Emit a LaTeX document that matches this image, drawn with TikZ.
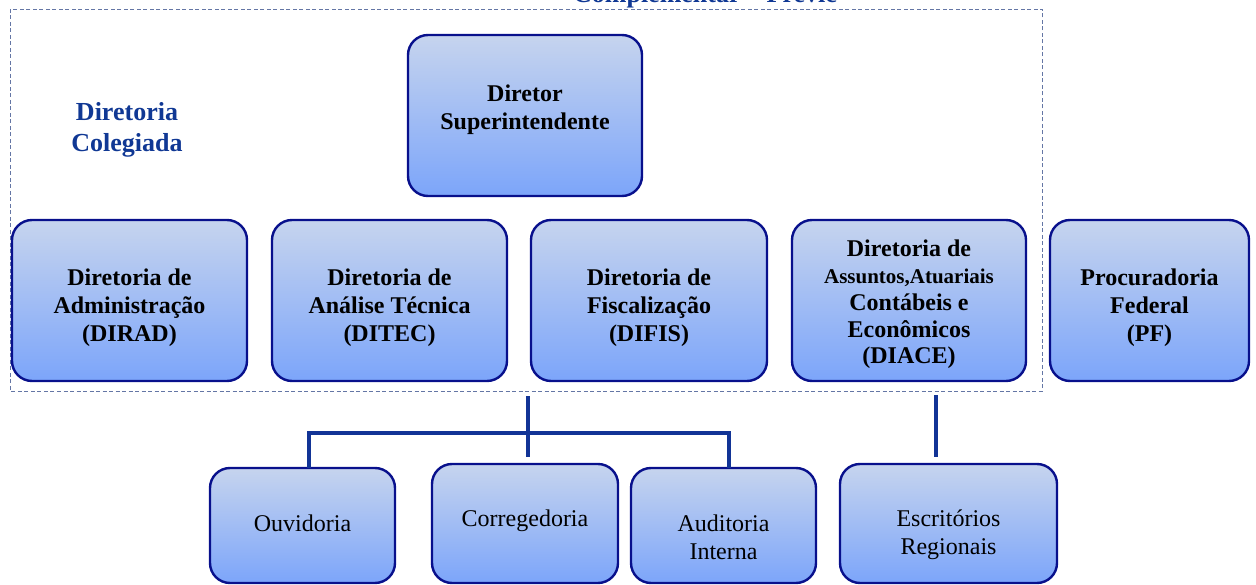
\documentclass[tikz,border=0pt]{standalone}
\usepackage{fontspec}
\setmainfont{Liberation Serif}
\definecolor{boxline}{RGB}{8,16,140}
\definecolor{boxtop}{RGB}{198,212,238}
\definecolor{boxbot}{RGB}{124,165,250}
\definecolor{connc}{RGB}{18,52,150}
\definecolor{titlec}{RGB}{16,56,148}
\definecolor{dashc}{RGB}{100,118,165}
\begin{document}
\begin{tikzpicture}[x=1pt,y=-1pt,
  box/.style args={#1/#2}{draw=boxline, line width=2.4pt, rounded corners=20pt,
    top color=boxtop, bottom color=boxbot, minimum width=#1pt, minimum height=#2pt,
    inner sep=0pt, outer sep=0pt},
  bt/.style={align=center, inner sep=0pt, font=\bfseries\fontsize{24}{28}\selectfont},
  lt/.style={align=center, inner sep=0pt, font=\fontsize{24}{28}\selectfont},
  head/.style={align=center, inner sep=0pt, text=titlec, font=\bfseries\fontsize{26}{31}\selectfont},
  conn/.style={draw=connc, line width=3.6pt},
  dashbox/.style={draw=dashc, line width=0.9pt, dash pattern=on 4pt off 2.5pt}]
\useasboundingbox (0,0) rectangle (1256,585);

% group frame
\draw[dashbox] (10,9) rectangle (1042,391);
\node[head, anchor=base] (title) at (705,3) {Complementar -- Previc};
\node[head] (coleg) at (127,130) {Diretoria\\Colegiada};

% top boxes
\node[box=234/161] (ds) at (525,115.5) {};
\node[bt] (dst) at (525,109.5) {Diretor\\Superintendente};

\node[box=235/161] (dirad) at (129.5,300.5) {};
\node[bt] (diradt) at (129.5,308) {Diretoria de\\Administração\\(DIRAD)};

\node[box=235/161] (ditec) at (389.5,300.5) {};
\node[bt] (ditect) at (389.5,308) {Diretoria de\\Análise Técnica\\(DITEC)};

\node[box=236/161] (difis) at (649,300.5) {};
\node[bt] (difist) at (649,308) {Diretoria de\\Fiscalização\\(DIFIS)};

\node[box=234/161] (diace) at (909,300.5) {};
\node[bt, font=\bfseries\fontsize{24}{26.8}\selectfont] (diacet) at (909,304.5)
  {Diretoria de\\{\fontsize{21}{26.8}\selectfont Assuntos,Atuariais}\\Contábeis e\\Econômicos\\(DIACE)};

\node[box=199/161] (pf) at (1149.5,300.5) {};
\node[bt] (pft) at (1149.5,308) {Procuradoria\\Federal\\(PF)};

% bottom boxes
\node[box=185/115] (ouv) at (302.5,525.5) {};
\node[lt] (ouvt) at (302.5,523) {Ouvidoria};

\node[box=186/119] (cor) at (525,523.5) {};
\node[lt] (cort) at (525,521) {Corregedoria};

\node[box=185/115] (aud) at (723.5,525.5) {};
\node[lt] (audt) at (723.5,537.5) {Auditoria\\Interna};

\node[box=217/119] (esc) at (948.5,523.5) {};
\node[lt] (esct) at (948.5,535) {Escritórios\\Regionais};

% connectors
\coordinate (v1a) at (528,396);
\coordinate (v1b) at (528,457);
\coordinate (hl) at (528,433);
\draw[conn] (v1a) -- (v1b);
\draw[conn] ([xshift=6.5pt]ouv.north) |- (hl) -| ([xshift=5.5pt]aud.north);
\coordinate (v2a) at (936,395);
\coordinate (v2b) at (936,457);
\draw[conn] (v2a) -- (v2b);
\end{tikzpicture}
\end{document}
